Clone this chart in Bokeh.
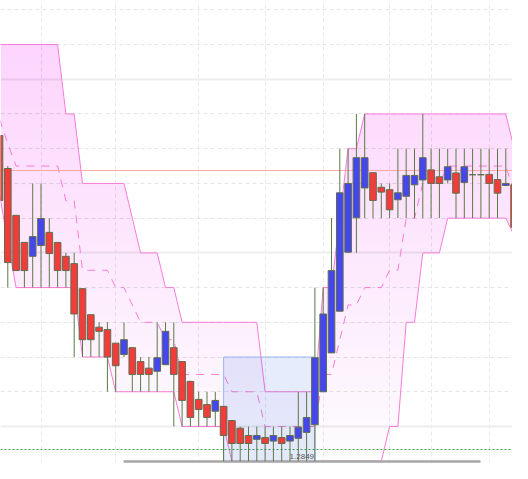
import numpy as np
from bokeh.plotting import figure
from bokeh.models import Range1d, FixedTicker, Grid
from bokeh.embed import file_html
from bokeh.resources import INLINE
from bokeh.core.properties import value

# ---------------- data ----------------
idx = list(range(-1, 63))
opens = [1.29438,
         1.29343, 1.29208, 1.29130, 1.29090, 1.29121, 1.29159, 1.29130, 1.29090, 1.29069, 1.28997,
         1.28922, 1.28886, 1.28879, 1.28840, 1.28807, 1.28827, 1.28787, 1.28768, 1.28759, 1.28778,
         1.28827, 1.28787, 1.28730, 1.28678, 1.28663, 1.28644, 1.28658, 1.28617, 1.28595, 1.28574,
         1.28563, 1.28568, 1.28558, 1.28568, 1.28558, 1.28566, 1.28583, 1.28605, 1.28700, 1.28812,
         1.28932, 1.29102, 1.29201, 1.29287, 1.29331, 1.29289, 1.29282, 1.29253, 1.29263, 1.29296,
         1.29310, 1.29339, 1.29319, 1.29310, 1.29330, 1.29303, 1.29325, 1.29325, 1.29326, 1.29311,
         1.29294, 1.29296, 1.29236]
highs = [1.29438,
         1.29350, 1.29208, 1.29130, 1.29300, 1.29300, 1.29200, 1.29130, 1.29100, 1.29100, 1.28997,
         1.28922, 1.28900, 1.28900, 1.28840, 1.28900, 1.28827, 1.28800, 1.28800, 1.28900, 1.28900,
         1.28900, 1.28787, 1.28730, 1.28700, 1.28700, 1.28700, 1.28658, 1.28617, 1.28600, 1.28600,
         1.28600, 1.28600, 1.28600, 1.28600, 1.28600, 1.28700, 1.28700, 1.29000, 1.29000, 1.29200,
         1.29400, 1.29400, 1.29500, 1.29500, 1.29331, 1.29300, 1.29300, 1.29400, 1.29400, 1.29400,
         1.29500, 1.29400, 1.29400, 1.29400, 1.29400, 1.29400, 1.29400, 1.29400, 1.29400, 1.29400,
         1.29400, 1.29400, 1.29500]
lows = [1.29251,
        1.29000, 1.29049, 1.29000, 1.29000, 1.29000, 1.29000, 1.29000, 1.29000, 1.28800, 1.28800,
        1.28800, 1.28800, 1.28700, 1.28700, 1.28800, 1.28700, 1.28700, 1.28700, 1.28700, 1.28778,
        1.28600, 1.28600, 1.28600, 1.28600, 1.28600, 1.28600, 1.28500, 1.28500, 1.28500, 1.28500,
        1.28500, 1.28500, 1.28500, 1.28500, 1.28500, 1.28500, 1.28500, 1.28500, 1.28700, 1.28812,
        1.28932, 1.29100, 1.29100, 1.29200, 1.29200, 1.29200, 1.29200, 1.29200, 1.29200, 1.29200,
        1.29200, 1.29200, 1.29200, 1.29300, 1.29200, 1.29200, 1.29200, 1.29200, 1.29200, 1.29200,
        1.29300, 1.29100, 1.29200]
closes = [1.29251,
          1.29072, 1.29049, 1.29049, 1.29147, 1.29199, 1.29098, 1.29049, 1.29049, 1.28924, 1.28850,
          1.28850, 1.28874, 1.28800, 1.28775, 1.28850, 1.28750, 1.28750, 1.28750, 1.28798, 1.28874,
          1.28750, 1.28675, 1.28626, 1.28649, 1.28626, 1.28675, 1.28574, 1.28551, 1.28551, 1.28551,
          1.28574, 1.28551, 1.28574, 1.28551, 1.28574, 1.28598, 1.28626, 1.28798, 1.28924, 1.29049,
          1.29273, 1.29300, 1.29374, 1.29374, 1.29251, 1.29275, 1.29224, 1.29273, 1.29323, 1.29323,
          1.29374, 1.29300, 1.29300, 1.29348, 1.29272, 1.29348, 1.29325, 1.29325, 1.29300, 1.29272,
          1.29300, 1.29174, 1.29273]
channel_upper = [1.2970] * 8 + [1.2950] * 2 + [1.2930] * 6 + [1.2920] + [1.2910] * 3 + [1.2900] * 2 \
    + [1.2890] * 10 + [1.2870] * 7 + [1.2900] * 2 + [1.2920] + [1.2940] * 2 + [1.2950] * 18 + [1.2940] * 2
channel_lower = [1.2927, 1.2913] + [1.2900] * 8 + [1.2880] * 4 + [1.2870] * 8 + [1.2860] * 6 \
    + [1.2850] * 19 + [1.2860] * 2 + [1.2890] * 2 + [1.2910] * 3 + [1.2920] * 8 + [1.2915] + [1.2910]

vgrid_ticks = [4, 13, 23, 31, 38, 46, 51, 58]
hgrid_minor = [1.2870, 1.2880, 1.2890, 1.2900, 1.2920, 1.2930, 1.2940, 1.2950, 1.2970, 1.2980]
hgrid_major = [1.2860, 1.2910, 1.2960]

ref_price = [1.29337]        # red horizontal line
marker_price = [1.28533]     # green dotted line
box_left, box_right, box_bottom, box_top = [26], [37], [1.28499], [1.2880]
bar_x0, bar_x1, bar_y = [13.95], [56.95], [1.28499]
label_text = ["1.2849"]

# ---------------- figure ----------------
p = figure(width=512, height=463, output_backend="svg", toolbar_location=None,
           x_range=Range1d(-0.8795, 60.807), y_range=Range1d(1.284934, 1.298268),
           min_border=0)
p.xaxis.visible = False
p.yaxis.visible = False
p.outline_line_color = None
p.background_fill_color = "white"
p.border_fill_color = "white"

p.xgrid.ticker = FixedTicker(ticks=vgrid_ticks)
p.xgrid.grid_line_color = "#e9e9e9"
p.xgrid.grid_line_dash = "4 3"
p.ygrid.ticker = FixedTicker(ticks=hgrid_minor)
p.ygrid.grid_line_color = "#e5e5e5"
p.ygrid.grid_line_dash = "4 3"
gmaj = Grid(dimension=1, ticker=FixedTicker(ticks=hgrid_major), grid_line_color="#eeeeee",
            grid_line_width=2)
p.add_layout(gmaj)

# channel fill with vertical gradient (stacked translucent layers)
up = np.array(channel_upper)
lo = np.array(channel_lower)
xs = np.linspace(-1, 62, 63 * 40 + 1)
up_f = np.interp(xs, idx, up)
lo_f = np.interp(xs, idx, lo)
p_min, p_max = 1.2850, 1.2970
n_layers = 40
levels = np.linspace(p_min, p_max, n_layers + 1)[:-1]
A_bot, A_top = 0.025, 0.12
prevA = 0.0
for lvl in levels:
    A = A_bot + (A_top - A_bot) * (lvl - p_min) / (p_max - p_min)
    a = 1 - (1 - A) / (1 - prevA)
    prevA = A
    y1 = np.maximum(lo_f, lvl)
    y2 = np.maximum(up_f, lvl)
    p.varea(x=xs, y1=y1, y2=y2, fill_color="#bf7fbf", fill_alpha=float(a))

mid = (up + lo) / 2
line_col = "#f77ad9"
p.line(idx, channel_upper, line_color=line_col, line_width=1)
p.line(idx, channel_lower, line_color=line_col, line_width=1)
p.line(idx, mid.tolist(), line_color=line_col, line_width=1, line_dash="8 7")

p.hspan(y=ref_price, line_color="#ffa6a6", line_width=1)
p.hspan(y=marker_price, line_color="#3fa33f", line_width=1, line_dash="2 2")

p.quad(left=box_left, right=box_right, bottom=box_bottom, top=box_top,
       fill_color="#3d6fe6", fill_alpha=0.13, line_color="#9bb6f0", line_width=1)

p.segment(x0=bar_x0, y0=bar_y, x1=bar_x1, y1=bar_y, line_color="#a6a6a6", line_width=2.5)

# candles
tops = [max(o, c) for o, c in zip(opens, closes)]
bots = [min(o, c) for o, c in zip(opens, closes)]
cols = ["#f23c3c" if c < o else ("#4646ee" if c > o else "#5a6e4a") for o, c in zip(opens, closes)]
p.segment(x0=idx, y0=highs, x1=idx, y1=lows, line_color="#5a7a48", line_width=1)
p.vbar(x=idx, width=0.8, top=tops, bottom=bots, fill_color=cols, line_color="#5f6e4c",
       line_width=1)

p.text(x=[36.9], y=[1.28506], text=label_text, text_font=value("Liberation Sans"),
       text_font_size="8px", text_align="right", text_baseline="bottom", text_color="#555555")

open("out.html", "w").write(file_html(p, INLINE))
